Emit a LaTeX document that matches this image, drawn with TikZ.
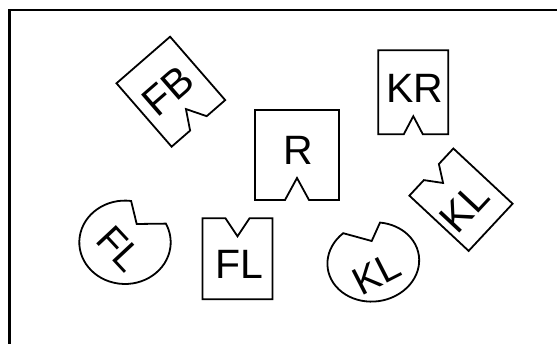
\documentclass[tikz,border=0pt]{standalone}
\usepackage{fontspec}
\setmainfont{Liberation Sans}
\tikzset{
  shp/.style={draw=black, line width=1.8pt, line join=miter},
  lbl/.style={font=\fontsize{41}{41}\selectfont, inner sep=0pt, text height=29.4pt, text depth=0pt, anchor=center},
  slbl/.style={font=\fontsize{39}{39}\selectfont, inner sep=0pt, text height=27.9pt, text depth=0pt, anchor=center},
  pics/nbox/.style n args={4}{code={
    \draw[shp] (-#1/2,#2/2) -- (#1/2,#2/2) -- (#1/2,-#2/2) -- (#3/2,-#2/2)
      -- (0,-#2/2+#4) -- (-#3/2,-#2/2) -- (-#1/2,-#2/2) -- cycle;
  }}
}
\begin{document}
\begin{tikzpicture}[x=1pt,y=1pt]
\useasboundingbox (0,0) rectangle (557,344);
\fill[white] (0,0) rectangle (557,344);
% frame
\draw[line width=2.2pt] (9.5,0) -- (9.5,334) -- (557,334);

% FB rotated box
\pic[rotate=41] at (170.85,252.3) {nbox={71}{84}{22}{19}};
\node[lbl, rotate=41] (fb) at (167.4,253.3) {FB};

% R box
\pic at (297,189) {nbox={84}{90}{24}{22}};
\node[lbl] (r) at (298,194.5) {R};

% KR box
\pic at (413.3,251.8) {nbox={70}{84}{19}{18}};
\node[lbl] (kr) at (415,256) {KR};

% FL box (notch on top)
\pic[rotate=180] at (237.5,85.2) {nbox={70}{81}{24}{18}};
\node[lbl] (flb) at (239,79.7) {FL};

% KL rotated box (notch on top side)
\pic[rotate=227] at (461,144.3) {nbox={64.5}{81}{22}{16}};
\node[lbl, rotate=47] (klb) at (464.1,137.3) {KL};

% FL round shape
\begin{scope}[shift={(125,101.7)}]
  \draw[shp] ({45.7*cos(82.3)},{41.7*sin(82.3)})
    arc[start angle=82.3, end angle=386.6, x radius=45.7, y radius=41.7]
    -- (11.7,18.3) -- cycle;
\end{scope}
\node[slbl, rotate=-47] (flc) at (120,95.5) {FL};

% KL round shape
\begin{scope}[shift={(373.3,82)}, rotate=8]
  \draw[shp] ({46*cos(124.1)},{39.5*sin(124.1)})
    arc[start angle=124.1, end angle=434.7, x radius=46, y radius=39.5]
    -- (1.34,21.0) -- cycle;
\end{scope}
\node[slbl, rotate=27] (klc) at (376.5,70.7) {KL};
\end{tikzpicture}
\end{document}
